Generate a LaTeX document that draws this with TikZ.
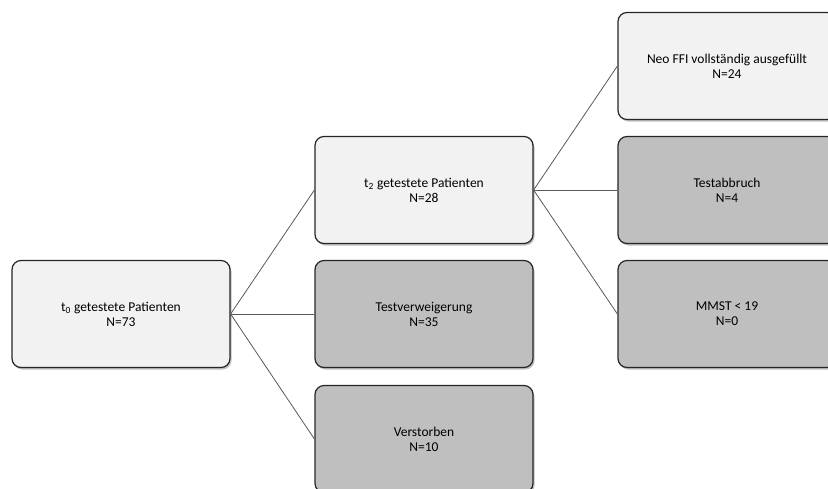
\documentclass[tikz,border=0pt]{standalone}
\usepackage{fontspec}
\setmainfont{Carlito}
\usepackage{xcolor}
\usetikzlibrary{shadows}

\begin{document}
\begin{tikzpicture}[x=1pt,y=-1pt]
            \tikzset{box/.style = {draw=black!85, line width=1.2pt, rounded corners=9pt,
                minimum width=218pt, minimum height=107pt, align=center,
                font=\fontsize{13.5}{15}\selectfont,
                drop shadow={shadow xshift=1.5pt, shadow yshift=-2pt, opacity=0.35, fill=black!70}}}
            \tikzset{light/.style = {box, fill=black!5}}
            \tikzset{dark/.style = {box, fill=black!25}}
            \tikzset{edge/.style = {draw=black!65, line width=0.8pt}}
            \useasboundingbox (0,0) rectangle (828,488);

            % boxes
            \node[light] (t0) at (121,314) {t\textsubscript{0} getestete Patienten\\N=73};
            \node[light] (t2) at (424,190) {t\textsubscript{2} getestete Patienten\\N=28};
            \node[dark] (verweigerung) at (424,314) {Testverweigerung\\N=35};
            \node[dark] (verstorben) at (424,439) {Verstorben\\N=10};
            \node[light] (neoffi) at (727,66) {Neo FFI vollständig ausgefüllt\\N=24};
            \node[dark] (abbruch) at (727,190) {Testabbruch\\N=4};
            \node[dark] (mmst) at (727,314) {MMST < 19\\N=0};

            % edges
            \foreach \y in {t2,verweigerung,verstorben} {\draw[edge] (t0.east) -- (\y.west);}
            \foreach \y in {neoffi,abbruch,mmst} {\draw[edge] (t2.east) -- (\y.west);}

\end{tikzpicture}
\end{document}
